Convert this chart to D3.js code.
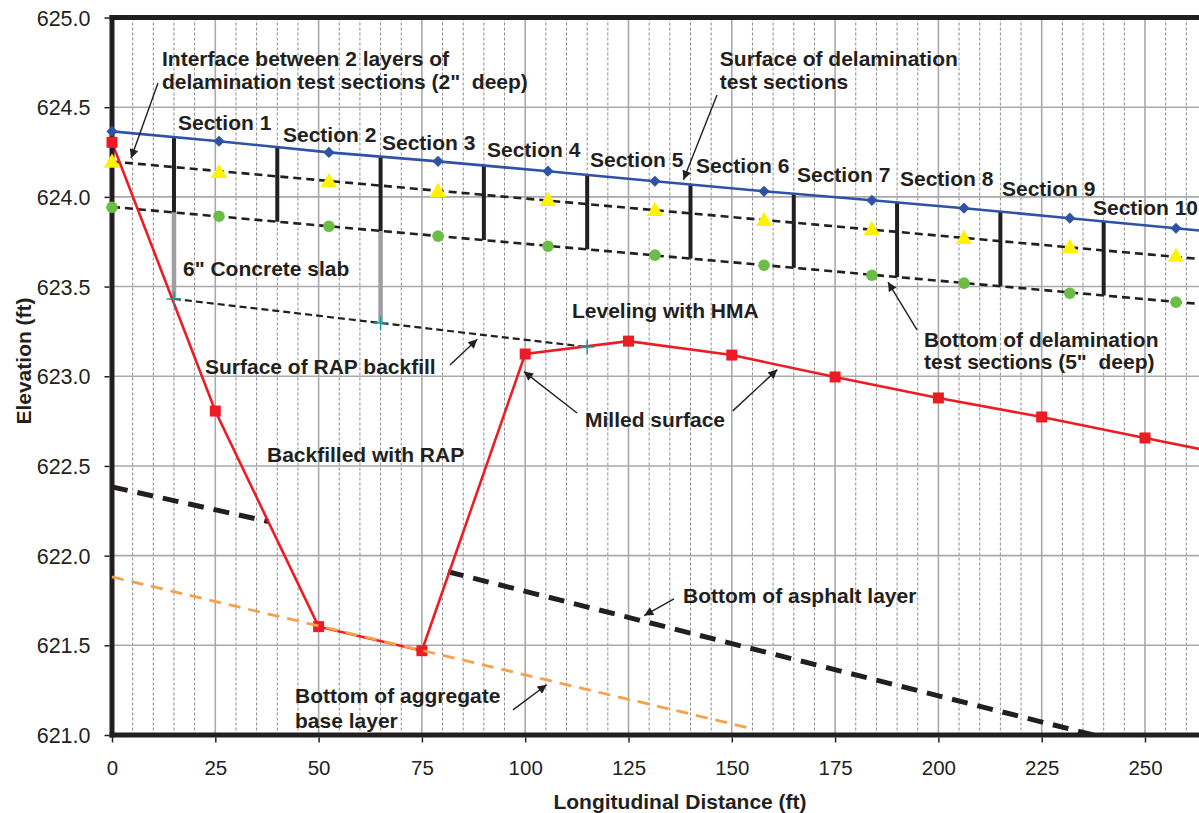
<!DOCTYPE html>
<html><head><meta charset="utf-8">
<script src="https://cdn.jsdelivr.net/npm/d3@7/dist/d3.min.js"></script>
<style>
body{margin:0;background:#fff}
text{font-family:"Liberation Sans",Arial,Helvetica,sans-serif;fill:#231f20}
</style>
</head><body>
<svg id="chart" width="1199" height="813"></svg>
<script>
// ---------- DATA ----------
// survey stations (ft) for delamination test section measurements
const surveyX = [0, 25.9, 52.5, 78.9, 105.5, 131.4, 157.8, 183.9, 206.2, 231.8, 257.5];
const surfaceElev   = [624.365, 624.310, 624.248, 624.198, 624.143, 624.087, 624.031, 623.981, 623.937, 623.881, 623.825];
const interfaceElev = [624.189, 624.131, 624.081, 624.026, 623.976, 623.920, 623.864, 623.814, 623.764, 623.714, 623.664];
const bottomElev    = [623.942, 623.892, 623.836, 623.781, 623.725, 623.675, 623.619, 623.563, 623.519, 623.463, 623.413];
// dashed trend lines (start / end)
const trendX = [0, 263.07];
const interfaceTrend = [624.197, 623.654];
const bottomTrend    = [623.944, 623.403];
// section boundaries
const sectionX = [15, 40, 65, 90, 115, 140, 165, 190, 215, 240];
const sectionNames = ["Section 1","Section 2","Section 3","Section 4","Section 5","Section 6","Section 7","Section 8","Section 9","Section 10"];
// concrete slab / RAP backfill
const slabX = [15, 65];
const rapX = [15, 65, 115];
const rapElev = [623.431, 623.297, 623.163];
// milled surface
const millX = [0, 25, 50, 75, 100, 125, 150, 175, 200, 225, 250, 275];
const millElev = [624.304, 622.806, 621.604, 621.470, 623.124, 623.196, 623.118, 622.996, 622.879, 622.773, 622.656, 622.540];
// bottom of asphalt layer (gap where backfilled)
const asphaltX = [0, 37.8, null, 81.3, 237.5];
const asphaltElev = [622.383, 622.190, null, 621.910, 621.000];
// bottom of aggregate base layer
const aggX = [0, 155.2];
const aggElev = [621.881, 621.034];
// axes
const yTicks = [621.0, 621.5, 622.0, 622.5, 623.0, 623.5, 624.0, 624.5, 625.0];
const xTicks = [0, 25, 50, 75, 100, 125, 150, 175, 200, 225, 250];

// ---------- ANNOTATIONS (data coords) ----------
const sectionLabelX = [15.97, 41.38, 65.34, 90.75, 115.68, 141.34, 165.78, 190.71, 215.39, 237.41];
const sectionLabelY = [624.373, 624.306, 624.261, 624.222, 624.166, 624.133, 624.083, 624.061, 624.005, 623.899];
const notes = [
  {t:"Interface between 2 layers of", x:12.1, y:624.730},
  {t:"delamination test sections (2\"  deep)", x:12.1, y:624.601},
  {t:"Surface of delamination", x:147.1, y:624.730},
  {t:"test sections", x:147.1, y:624.601},
  {t:"6\" Concrete slab", x:17.18, y:623.559},
  {t:"Surface of RAP backfill", x:22.51, y:623.013},
  {t:"Leveling with HMA", x:111.33, y:623.325},
  {t:"Milled surface", x:114.47, y:622.717},
  {t:"Backfilled with RAP", x:37.51, y:622.522},
  {t:"Bottom of delamination", x:196.51, y:623.163},
  {t:"test sections (5\"  deep)", x:196.51, y:623.040},
  {t:"Bottom of asphalt layer", x:138.19, y:621.736},
  {t:"Bottom of aggregate", x:44.29, y:621.179},
  {t:"base layer", x:44.29, y:621.040}
];
const arrows = [
  {x1:11.13, y1:624.635, x2:4.6,  y2:624.215},
  {x1:146.42,y1:624.568, x2:138.3,y2:624.096},
  {x1:81.80, y1:623.063, x2:88.4, y2:623.206},
  {x1:112.54,y1:622.795, x2:99.7, y2:623.026},
  {x1:150.24,y1:622.807, x2:161.0,y2:623.037},
  {x1:194.82,y1:623.258, x2:187.8,y2:623.525},
  {x1:136.01,y1:621.759, x2:128.8,y2:621.666},
  {x1:97.05, y1:621.140, x2:105.2,y2:621.280}
];

// ---------- CHART ----------
const W = 1199, H = 813;
const svg = d3.select("#chart");
svg.append("rect").attr("width", W).attr("height", H).attr("fill", "#fff");
const x = d3.scaleLinear().domain([0, 263.07]).range([112, 1199]);
const y = d3.scaleLinear().domain([621, 625]).range([735, 17.5]);
const ink = "#231f20";

const defs = svg.append("defs");
defs.append("clipPath").attr("id","plot")
  .append("rect").attr("x", 112).attr("y", 17.5).attr("width", 1087).attr("height", 717.5);
defs.append("marker").attr("id","ah")
  .attr("viewBox","0 0 10 10").attr("refX",10).attr("refY",5)
  .attr("markerWidth",11).attr("markerHeight",9).attr("markerUnits","userSpaceOnUse")
  .attr("orient","auto")
  .append("path").attr("d","M0,0 L10,5 L0,10 z").attr("fill", ink);

const plot = svg.append("g").attr("clip-path","url(#plot)");

// grid
const minorX = d3.range(5, 265, 5).filter(v => v % 25 !== 0);
plot.append("g").selectAll("line").data(minorX).join("line")
  .attr("x1", d => x(d)).attr("x2", d => x(d)).attr("y1", y(625)).attr("y2", y(621))
  .attr("stroke", "#8a8a8a").attr("stroke-width", 1).attr("stroke-dasharray", "3,2");
plot.append("g").selectAll("line").data(xTicks).join("line")
  .attr("x1", d => x(d)).attr("x2", d => x(d)).attr("y1", y(625)).attr("y2", y(621))
  .attr("stroke", "#a7a9ac").attr("stroke-width", 1.6);
plot.append("g").selectAll("line").data(yTicks).join("line")
  .attr("x1", x(0)).attr("x2", x(263.07)).attr("y1", d => y(d)).attr("y2", d => y(d))
  .attr("stroke", "#a7a9ac").attr("stroke-width", 1.6);

const zip = (xs, ys) => xs.map((v, i) => [v, ys[i]]);
const line = d3.line().defined(d => d[0] !== null).x(d => x(d[0])).y(d => y(d[1]));
const lerp = (xs, ys, v) => {
  for (let i = 0; i < xs.length - 1; i++) {
    if (v >= xs[i] && v <= xs[i+1]) return ys[i] + (ys[i+1]-ys[i])*(v-xs[i])/(xs[i+1]-xs[i]);
  }
  return ys[ys.length-1];
};

// bottom of asphalt layer
plot.append("path").attr("d", line(zip(asphaltX, asphaltElev)))
  .attr("fill","none").attr("stroke", ink).attr("stroke-width", 5).attr("stroke-dasharray","16,10");

// RAP backfill surface
plot.append("path").attr("d", line(zip(rapX, rapElev)))
  .attr("fill","none").attr("stroke", ink).attr("stroke-width", 2.2).attr("stroke-dasharray","7,4");

// concrete slab bars (gray)
plot.append("g").selectAll("line").data(slabX).join("line")
  .attr("x1", d => x(d)).attr("x2", d => x(d))
  .attr("y1", d => y(lerp(trendX, bottomTrend, d)))
  .attr("y2", d => y(lerp(rapX, rapElev, d)))
  .attr("stroke", "#9d9fa2").attr("stroke-width", 4.5);

// trend dashed lines
plot.append("path").attr("d", line(zip(trendX, interfaceTrend)))
  .attr("fill","none").attr("stroke", ink).attr("stroke-width", 2.6).attr("stroke-dasharray","8,5");
plot.append("path").attr("d", line(zip(trendX, bottomTrend)))
  .attr("fill","none").attr("stroke", ink).attr("stroke-width", 2.6).attr("stroke-dasharray","8,5");

// surface line extended to the right edge with last slope
const lastSlope = (surfaceElev[10]-surfaceElev[9])/(surveyX[10]-surveyX[9]);
const surfacePts = zip(surveyX, surfaceElev).concat([[263.07, surfaceElev[10] + lastSlope*(263.07-surveyX[10])]]);

// section bars
plot.append("g").selectAll("line").data(sectionX).join("line")
  .attr("x1", d => x(d)).attr("x2", d => x(d))
  .attr("y1", d => y(lerp(surfacePts.map(p=>p[0]), surfacePts.map(p=>p[1]), d)))
  .attr("y2", d => y(lerp(trendX, bottomTrend, d)))
  .attr("stroke", ink).attr("stroke-width", 4);

// surface (blue)
plot.append("path").attr("d", line(surfacePts))
  .attr("fill","none").attr("stroke", "#2f52a4").attr("stroke-width", 2.6);

// milled surface (red)
plot.append("path").attr("d", line(zip(millX, millElev)))
  .attr("fill","none").attr("stroke", "#ed1c24").attr("stroke-width", 2.6);

// frame
svg.append("line").attr("x1", 109.5).attr("x2", 1199).attr("y1", 17.5).attr("y2", 17.5)
  .attr("stroke", ink).attr("stroke-width", 5);
svg.append("line").attr("x1", 112).attr("x2", 112).attr("y1", 15).attr("y2", 737.5)
  .attr("stroke", ink).attr("stroke-width", 5);
svg.append("line").attr("x1", 109.5).attr("x2", 1199).attr("y1", 735).attr("y2", 735)
  .attr("stroke", ink).attr("stroke-width", 5);

// markers (not clipped on the left so points at x=0 sit over the axis)
const mk = svg.append("g");
mk.append("g").selectAll("path").data(zip(surveyX, surfaceElev)).join("path")
  .attr("d", d3.symbol(d3.symbolDiamond2, 80))
  .attr("transform", d => `translate(${x(d[0])},${y(d[1])})`).attr("fill", "#2f52a4");
mk.append("g").selectAll("path").data(zip(surveyX, interfaceElev)).join("path")
  .attr("d", d3.symbol(d3.symbolTriangle, 115))
  .attr("transform", d => `translate(${x(d[0])},${y(d[1])})`).attr("fill", "#fff200");
mk.append("g").selectAll("circle").data(zip(surveyX, bottomElev)).join("circle")
  .attr("cx", d => x(d[0])).attr("cy", d => y(d[1])).attr("r", 5.8).attr("fill", "#6cbd45");
mk.append("g").selectAll("rect").data(zip(millX, millElev).filter(d => d[0] <= 263)).join("rect")
  .attr("x", d => x(d[0]) - 5.5).attr("y", d => y(d[1]) - 5.5).attr("width", 11).attr("height", 11)
  .attr("fill", "#ed1c24");

// aggregate base (orange) above the red squares
svg.append("path").attr("d", line(zip(aggX, aggElev)))
  .attr("fill","none").attr("stroke", "#f7a14d").attr("stroke-width", 2.8).attr("stroke-dasharray","12,8");

// RAP plus markers
svg.append("g").selectAll("path").data(zip(rapX, rapElev)).join("path")
  .attr("d", d3.symbol(d3.symbolPlus, 70))
  .attr("transform", d => `translate(${x(d[0])},${y(d[1])})`)
  .attr("fill","none").attr("stroke", "#1b9aa0").attr("stroke-width", 1.5);

// axes
const yAxis = svg.append("g").attr("transform", "translate(109.5,0)")
  .call(d3.axisLeft(y).tickValues(yTicks).tickFormat(d3.format(".1f")).tickSize(5).tickPadding(14));
yAxis.select(".domain").remove();
yAxis.selectAll("line").attr("stroke", ink).attr("stroke-width", 1.5);
yAxis.selectAll("text").attr("font-size", 21.5).attr("dy", "0.35em").style("fill", ink);

const xAxis = svg.append("g").attr("transform", "translate(0,737.5)")
  .call(d3.axisBottom(x).tickValues(xTicks).tickFormat(d3.format("d")).tickSize(5).tickPadding(32.5));
xAxis.select(".domain").remove();
xAxis.selectAll("line").attr("stroke", ink).attr("stroke-width", 1.5);
xAxis.selectAll("text").attr("font-size", 20.5).attr("dy", "0").style("fill", ink);

// axis titles
svg.append("text").attr("transform", "translate(31,361) rotate(-90)")
  .attr("text-anchor","middle").attr("font-size", 21).attr("font-weight","bold").text("Elevation (ft)");
svg.append("text").attr("x", 680).attr("y", 809)
  .attr("text-anchor","middle").attr("font-size", 21).attr("font-weight","bold").text("Longitudinal Distance (ft)");

// section labels
svg.append("g").selectAll("text").data(sectionNames).join("text")
  .attr("x", (d, i) => x(sectionLabelX[i])).attr("y", (d, i) => y(sectionLabelY[i]))
  .attr("font-size", 21).attr("font-weight","bold").text(d => d);

// notes
svg.append("g").selectAll("text").data(notes).join("text")
  .attr("x", d => x(d.x)).attr("y", d => y(d.y))
  .attr("font-size", 21).attr("font-weight","bold").style("white-space","pre")
  .attr("xml:space","preserve").text(d => d.t);

// arrows
svg.append("g").selectAll("line").data(arrows).join("line")
  .attr("x1", d => x(d.x1)).attr("y1", d => y(d.y1)).attr("x2", d => x(d.x2)).attr("y2", d => y(d.y2))
  .attr("stroke", ink).attr("stroke-width", 1.4).attr("marker-end", "url(#ah)");
</script>
</body></html>
